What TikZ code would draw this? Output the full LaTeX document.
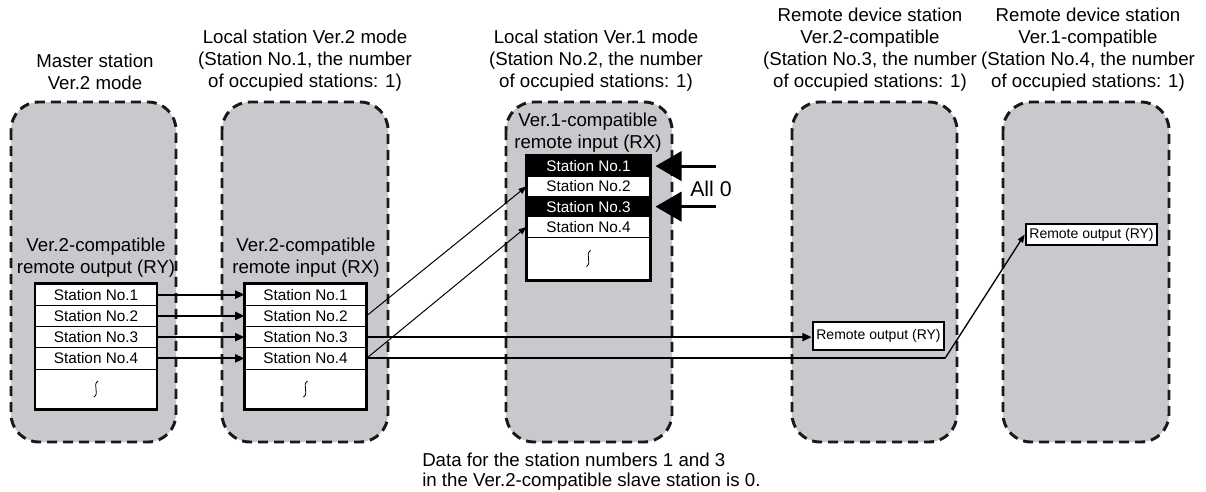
\documentclass[tikz,border=0pt]{standalone}
\usepackage{fontspec}
\setmainfont{Liberation Sans}
\usetikzlibrary{arrows.meta}
\definecolor{panelgray}{RGB}{200,201,204}
\begin{document}
\begin{tikzpicture}[x=0.75pt,y=-0.75pt,
  panel/.style={draw=black!90, fill=panelgray, line width=2.2pt, dash pattern=on 7.5pt off 4.5pt, rounded corners=21pt},
  head/.style={align=center, font=\fontsize{14}{16.5}\selectfont, inner sep=0},
  note/.style={align=left, font=\fontsize{14}{15}\selectfont, inner sep=0},
  row/.style={draw, line width=0.75pt, fill=white, minimum width=90.75pt, minimum height=15.94pt, inner sep=0, font=\fontsize{11.5}{13}\selectfont},
  lastrow/.style={row, minimum height=30pt},
  rowc/.style={row, minimum width=92.25pt, minimum height=15.19pt},
  lastrowc/.style={rowc, minimum height=32.25pt},
  blackrow/.style={fill=black, text=white},
  frame/.style={draw, line width=2.2pt},
  outbox/.style={draw, line width=2pt, fill=white, minimum width=98.25pt, minimum height=21pt, inner sep=0, font=\fontsize{10.5}{12}\selectfont},
  thickarrow/.style={line width=1.5pt, -{Triangle[length=7pt,width=6pt]}},
  thinarrow/.style={line width=0.75pt, -{Triangle[length=6pt,width=4.5pt]}},
  bigarrow/.style={line width=2.2pt, -{Triangle[length=19.5pt,width=22pt]}},
  squig/.style={line width=0.6pt}
]
\useasboundingbox (0,0) rectangle (1206,492);

% panels
\draw[panel] (11,102) rectangle (176,442);
\draw[panel] (222,102) rectangle (388,442);
\draw[panel] (506,102) rectangle (672,442);
\draw[panel] (792,102) rectangle (957,442);
\draw[panel] (1003,102) rectangle (1169,442);

% headers
\node[head] (h1) at (95,72) {Master station\\Ver.2 mode};
\node[head] (h2) at (305,61) {Local station Ver.2 mode\\(Station No.1, the number\\of occupied stations: 1)};
\node[head] (h3) at (596,61) {Local station Ver.1 mode\\(Station No.2, the number\\of occupied stations: 1)};
\node[head] (h4) at (870,50) {Remote device station\\Ver.2-compatible\\(Station No.3, the number\\of occupied stations: 1)};
\node[head] (h5) at (1088,50) {Remote device station\\Ver.1-compatible\\(Station No.4, the number\\of occupied stations: 1)};

% inner labels
\node[head] (l1) at (96,258) {Ver.2-compatible\\remote output (RY)};
\node[head] (l2) at (306,258) {Ver.2-compatible\\remote input (RX)};
\node[head] (l3) at (588,133) {Ver.1-compatible\\remote input (RX)};

% table 1
\node[row] (a1) at (96,294.625) {Station No.1};
\node[row] (a2) at (96,315.875) {Station No.2};
\node[row] (a3) at (96,337.125) {Station No.3};
\node[row] (a4) at (96,358.375) {Station No.4};
\node[lastrow] (a5) at (96,389) {};
\draw[frame] (a1.north west) rectangle (a5.south east);
\draw[squig] ([shift={(1.5pt,6pt)}]a5.center) .. controls +(-4.5pt,-3pt) and +(4.5pt,3pt) .. ([shift={(-1.5pt,-6pt)}]a5.center);

% table 2
\node[row] (b1) at (305.5,294.625) {Station No.1};
\node[row] (b2) at (305.5,315.875) {Station No.2};
\node[row] (b3) at (305.5,337.125) {Station No.3};
\node[row] (b4) at (305.5,358.375) {Station No.4};
\node[lastrow] (b5) at (305.5,389) {};
\draw[frame] (b1.north west) rectangle (b5.south east);
\draw[squig] ([shift={(1.5pt,6pt)}]b5.center) .. controls +(-4.5pt,-3pt) and +(4.5pt,3pt) .. ([shift={(-1.5pt,-6pt)}]b5.center);

% table 3
\node[rowc, blackrow] (c1) at (588.5,166.125) {Station No.1};
\node[rowc] (c2) at (588.5,186.375) {Station No.2};
\node[rowc, blackrow] (c3) at (588.5,206.625) {Station No.3};
\node[rowc] (c4) at (588.5,226.875) {Station No.4};
\node[lastrowc] (c5) at (588.5,258.5) {};
\draw[frame] (c1.north west) rectangle (c5.south east);
\draw[squig] ([shift={(1.5pt,6pt)}]c5.center) .. controls +(-4.5pt,-3pt) and +(4.5pt,3pt) .. ([shift={(-1.5pt,-6pt)}]c5.center);

% remote output boxes
\node[outbox] (o3) at (878.5,336) {Remote output (RY)};
\node[outbox, minimum height=15.75pt] (o4) at (1091.5,234.5) {Remote output (RY)};

% All 0
\coordinate (z1) at (716,166.125);
\coordinate (z3) at (716,206.625);
\draw[bigarrow, shorten >=3.75pt] (z1) -- (c1.east);
\draw[bigarrow, shorten >=3.75pt] (z3) -- (c3.east);
\node[inner sep=0, font=\fontsize{16}{18}\selectfont] (all0) at (711,189) {All 0};

% connectors
\draw[thickarrow] (a1.east) -- (b1.west);
\draw[thickarrow] (a2.east) -- (b2.west);
\draw[thickarrow] (a3.east) -- (b3.west);
\draw[thickarrow] (a4.east) -- (b4.west);
\draw[thinarrow] (b2.east) -- (c2.west);
\draw[thinarrow] (b4.east) -- (c4.west);
\draw[thickarrow] (b3.east) -- (b3.east -| o3.west);
\coordinate (bendpt) at (945,358.375);
\draw[line width=1.5pt] (b4.east) -- (bendpt);
\draw[thinarrow, line width=1pt] (bendpt) -- (o4.west);

% note
\node[note, anchor=west] (n1) at (422,472) {Data for the station numbers 1 and 3\\in the Ver.2-compatible slave station is 0.};
\end{tikzpicture}
\end{document}
